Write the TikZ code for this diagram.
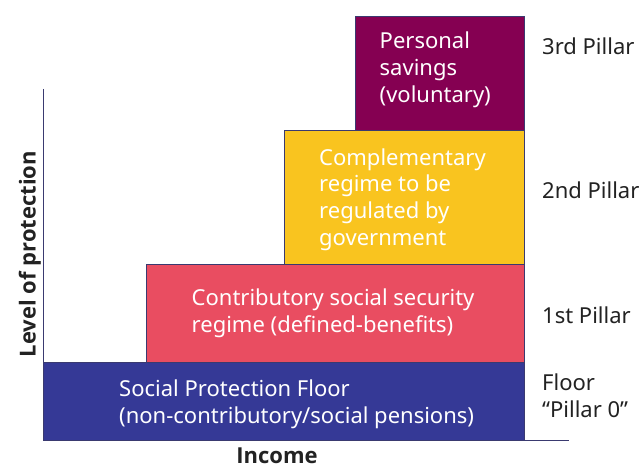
\documentclass[tikz,border=0pt]{standalone}
\usepackage{fontspec}
\setmainfont{Noto Sans}
\newfontfamily\axisfont{Open Sans}
\begin{document}
\definecolor{pillarthree}{HTML}{850052}
\definecolor{pillartwo}{HTML}{F9C41F}
\definecolor{pillarone}{HTML}{E94D61}
\definecolor{pillarzero}{HTML}{353996}
\definecolor{edgeblue}{HTML}{3A3A70}
\definecolor{ink}{HTML}{222222}
\begin{tikzpicture}[x=1pt,y=-1pt,
  tier/.style={draw=edgeblue,line width=1pt},
  % multi-line nodes: the base anchor sits on the last line's baseline
  tiertext/.style={anchor=base west,inner sep=0pt,text=white,align=left,
    font=\fontsize{22}{26.8}\selectfont},
  sidelabel/.style={anchor=base west,inner sep=0pt,text=ink,align=left,
    font=\fontsize{22}{26.8}\selectfont},
  axislabel/.style={anchor=base,inner sep=0pt,text=ink,font=\axisfont\fontsize{22}{26}\selectfont\bfseries}]
\useasboundingbox (0,0) rectangle (642,468);
% stacked tiers, bottom to top
\filldraw[tier,fill=pillarzero] (43,362) rectangle (524,440);
\filldraw[tier,fill=pillarone] (146,264) rectangle (524,362);
\filldraw[tier,fill=pillartwo] (284,131) rectangle (524,264);
\filldraw[tier,fill=pillarthree] (355,17) rectangle (524,131);
% axes
\coordinate (ytop) at (43,89);
\coordinate (origin) at (43,440);
\coordinate (xend) at (569,440);
\draw[edgeblue,line width=1pt] (ytop) -- (origin) -- (xend);
% texts inside the tiers
\node[tiertext] (t3) at (379.5,102.6) {Personal\\savings\\(voluntary)};
\node[tiertext] (t2) at (319,245.4) {Complementary\\regime to be\\regulated by\\government};
\node[tiertext] (t1) at (191.5,332.5) {Contributory social security\\regime (defined-benefits)};
\node[tiertext] (t0) at (119,423.5) {Social Protection Floor\\(non-contributory/social pensions)};
% pillar names
\node[sidelabel] (s3) at (542,55) {3rd Pillar};
\node[sidelabel] (s2) at (542,198.3) {2nd Pillar};
\node[sidelabel] (s1) at (542,323) {1st Pillar};
\node[sidelabel] (s0) at (542,417.5) {Floor\\“Pillar 0”};
% axis titles
\node[axislabel] (xl) at (277,463.5) {Income};
\node[axislabel,rotate=90] (yl) at (35.5,254) {Level of protection};
\end{tikzpicture}
\end{document}
